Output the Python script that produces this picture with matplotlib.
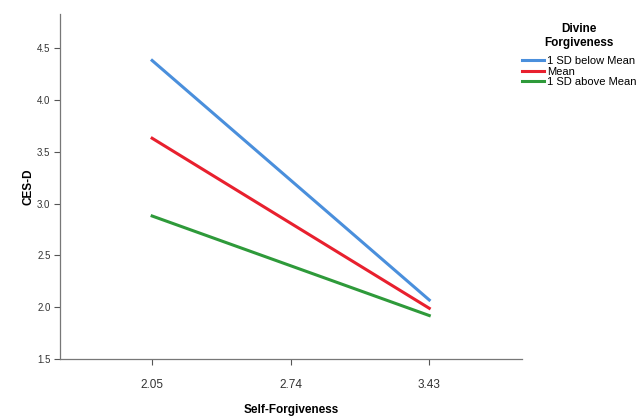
import matplotlib
matplotlib.use("Agg")
import matplotlib.pyplot as plt

plt.rcParams['font.family'] = ['Liberation Sans', 'DejaVu Sans']

self_forgiveness = [2.05, 3.43]
x_ticks = [2.05, 2.74, 3.43]
series_names = ["1 SD below Mean", "Mean", "1 SD above Mean"]
below_mean = [4.38, 2.07]
mean_vals = [3.63, 1.99]
above_mean = [2.88, 1.92]
colors = ["#4a8fdc", "#e8202e", "#2e9a3a"]

fig = plt.figure(figsize=(6.4, 4.19), dpi=100)
ax = fig.add_axes([0.094, 0.143, 0.722, 0.824])

for vals, name, c in zip([below_mean, mean_vals, above_mean], series_names, colors):
    ax.plot(self_forgiveness, vals, color=c, lw=2.2, label=name)

ax.set_xlim(1.592, 3.893)
ax.set_ylim(1.5, 4.83)
ax.set_xticks(x_ticks)
ax.set_xticklabels(["2.05", "2.74", "3.43"])
ax.set_yticks([1.5, 2.0, 2.5, 3.0, 3.5, 4.0, 4.5])
ax.tick_params(axis='x', labelsize=8.5, colors='#555555', labelcolor='#333333', length=4, pad=10)
ax.tick_params(axis='y', labelsize=7, colors='#555555', labelcolor='#333333', length=4, pad=3)

for s in ['top', 'right']:
    ax.spines[s].set_visible(False)
for s in ['left', 'bottom']:
    ax.spines[s].set_color('#777777')
    ax.spines[s].set_linewidth(0.9)

ax.set_xlabel("Self-Forgiveness", fontsize=8.5, fontweight='bold', labelpad=10)
ax.set_ylabel("CES-D", fontsize=8.5, fontweight='bold', labelpad=2)

leg = ax.legend(title="Divine\nForgiveness", loc='upper left', bbox_to_anchor=(0.99, 0.985),
                frameon=False, fontsize=8, handlelength=2.0, handletextpad=0.25,
                labelspacing=0.05, borderaxespad=0)
leg.get_title().set_fontweight('bold')
leg.get_title().set_fontsize(8.5)
leg.get_title().set_multialignment('center')
leg._legend_box.align = "center"
leg._legend_box.sep = 5

fig.savefig("out.png", dpi=100)
